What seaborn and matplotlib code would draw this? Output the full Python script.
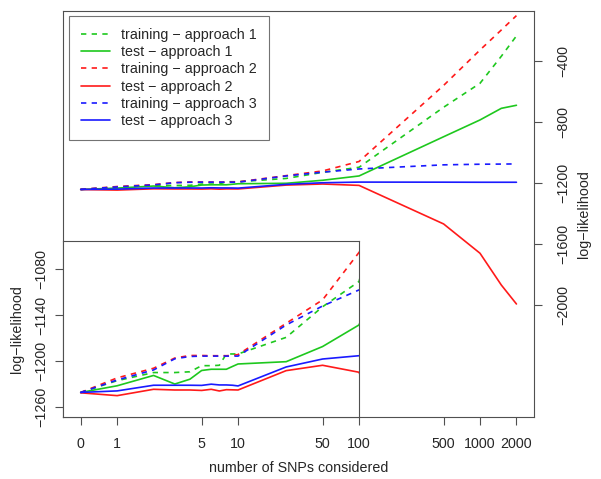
import numpy as np
import matplotlib
matplotlib.use("Agg")
import matplotlib.pyplot as plt
import seaborn as sns

# number of SNPs at each evaluation point (0 is drawn at 0.5 on the log axis)
snps = np.array([0, 1, 2, 3, 4, 5, 6, 7, 8, 9, 10, 25, 50, 100, 500, 1000, 1500, 2000])

train_1 = [-1241, -1225.6, -1215, -1215, -1214, -1206, -1206, -1205.5, -1190.7, -1190.7, -1190.7,
           -1169, -1129, -1096, -703, -546, -369, -236]
test_1 = [-1241, -1232.3, -1218.8, -1230, -1223.7, -1212.3, -1210.7, -1210.7, -1210.7, -1207, -1203.8,
          -1200.8, -1181, -1152.8, -896, -786, -710, -690]
train_2 = [-1241, -1222, -1209.4, -1196, -1192.7, -1192.7, -1193, -1193, -1193, -1192.5, -1191.5,
           -1150.6, -1120, -1058, -560, -328, -197, -103]
test_2 = [-1241.5, -1245.2, -1236.9, -1237.8, -1237.8, -1238.4, -1236.9, -1239.1, -1237.4, -1237.6, -1237.8,
          -1212.5, -1205.5, -1214.6, -1467, -1659, -1867, -1991]
train_3 = [-1241, -1224.7, -1211.6, -1197, -1194, -1193.5, -1193.5, -1193.5, -1193.5, -1193.5, -1193.5,
           -1152.8, -1128, -1107, -1080, -1076, -1075, -1074]
test_3 = [-1241, -1239, -1231.6, -1231.6, -1231.6, -1231.8, -1230.2, -1231.2, -1231.2, -1231.6, -1232.5,
          -1207.7, -1197.3, -1193, -1193.5, -1194, -1194, -1194]

labels = ["training \u2212 approach 1", "test \u2212 approach 1",
          "training \u2212 approach 2", "test \u2212 approach 2",
          "training \u2212 approach 3", "test \u2212 approach 3"]
series = [train_1, test_1, train_2, test_2, train_3, test_3]

x_ticks = [0, 1, 5, 10, 50, 100, 500, 1000, 2000]
main_yticks = [-400, -800, -1200, -1600, -2000]
inset_yticks = [-1260, -1200, -1140, -1080]

colors = ["#1ec81e", "#1ec81e", "#ff1a1a", "#ff1a1a", "#1a1aff", "#1a1aff"]
styles = [(0, (3.2, 3.2)), "-", (0, (3.2, 3.2)), "-", (0, (3.2, 3.2)), "-"]


def to_pos(n):
    n = np.asarray(n, dtype=float)
    return np.log(np.where(n == 0, 0.5, n))


sns.set_style("ticks")
plt.rcParams["font.family"] = ["Liberation Sans", "DejaVu Sans"]
fs = 10.3
plt.rcParams["font.size"] = fs
edge = "#505050"

fig = plt.figure(figsize=(6.01, 4.79), dpi=100)
ax = fig.add_axes([0.1053, 0.1301, 0.783, 0.8476])
inset = fig.add_axes([0.1053, 0.1301, 0.492, 0.3668])

xpos = to_pos(snps)
for vals, lab, c, ls in zip(series, labels, colors, styles):
    sns.lineplot(x=xpos, y=vals, ax=ax, color=c, linestyle=ls, lw=1.2, label=lab)
    sns.lineplot(x=xpos, y=vals, ax=inset, color=c, linestyle=ls, lw=1.2, legend=False)

# main panel
ax.set_xlim(np.log(0.5) - 0.332, np.log(2000) + 0.332)
ax.set_ylim(-2729, -70.6)
ax.set_xticks(to_pos(x_ticks))
ax.set_xticklabels([str(t) for t in x_ticks])
ax.yaxis.tick_right()
ax.yaxis.set_label_position("right")
ax.set_yticks(main_yticks)
ax.set_yticklabels([f"\u2212{abs(t)}" for t in main_yticks], rotation=90, va="center")
ax.set_ylabel("log\u2212likelihood", labelpad=5)
ax.set_xlabel("number of SNPs considered", labelpad=7)
ax.tick_params(axis="x", length=6, width=0.8, color=edge, pad=8.5, labelsize=fs)
ax.tick_params(axis="y", length=6, width=0.8, color=edge, pad=10, labelsize=fs)
for s in ax.spines.values():
    s.set_visible(True)
    s.set_color(edge)
    s.set_linewidth(0.8)

leg = ax.legend(loc="upper left", bbox_to_anchor=(0.0127, 0.987), borderaxespad=0,
                fancybox=False, frameon=True, handlelength=2.0, handletextpad=0.8,
                labelspacing=0.22, borderpad=0.85, fontsize=fs)
leg.get_frame().set_edgecolor(edge)
leg.get_frame().set_linewidth(0.8)

# inset panel
inset.set_xlim(np.log(0.5) - 0.332, np.log(100))
inset.set_ylim(-1272.7, -1043)
inset.set_xticks([])
inset.set_yticks(inset_yticks)
inset.set_yticklabels([f"\u2212{abs(t)}" for t in inset_yticks], rotation=90, va="center")
inset.set_ylabel("log\u2212likelihood", labelpad=7)
inset.set_xlabel("")
inset.tick_params(length=6, width=0.8, color=edge, pad=5, labelsize=fs)
inset.set_facecolor("white")
for s in inset.spines.values():
    s.set_visible(True)
    s.set_color(edge)
    s.set_linewidth(0.8)

fig.savefig("out.png", dpi=100)
